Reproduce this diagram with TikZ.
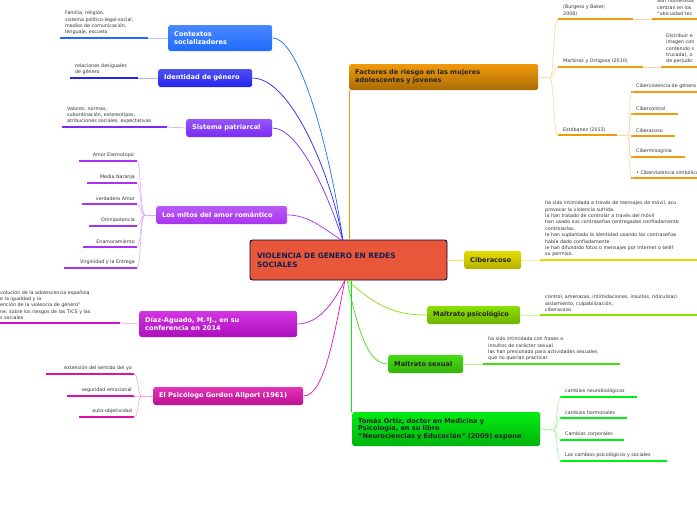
\documentclass[tikz,border=0pt]{standalone}
\usepackage{fontspec}
\setmainfont{DejaVu Sans}
\begin{document}
\begin{tikzpicture}[x=1pt,y=-1pt,
 box/.style={rounded corners=2.5pt,font=\fontsize{6.6}{7.6}\selectfont\bfseries,align=left,inner xsep=6pt,inner ysep=3pt,text=white,anchor=west},
 lf/.style={font=\fontsize{4.8}{6.4}\selectfont,text=black!80,align=left,inner sep=0pt},
 br/.style={line width=0.7pt}]
\useasboundingbox (0,0) rectangle (697,520);
\clip (0,0) rectangle (697,520);
\definecolor{cA}{HTML}{1E6BFF}\definecolor{cB}{HTML}{2424EE}\definecolor{cC}{HTML}{7B2BF5}
\definecolor{cD}{HTML}{A833F0}\definecolor{cE}{HTML}{CC11DD}\definecolor{cF}{HTML}{DD11AA}
\definecolor{cG}{HTML}{F29A0A}\definecolor{cH}{HTML}{E4DC00}\definecolor{cI}{HTML}{8BE000}
\definecolor{cJ}{HTML}{44DD11}\definecolor{cK}{HTML}{00EE11}
\newcommand\myleaf[5]{\draw[#1,line width=1.6pt] (#2,#4) -- (#3,#4);
 \node[lf,anchor=south west] at (#2+5,#4-3) {#5};}
\newcommand\myleafr[5]{\draw[#1,line width=1.6pt] (#2,#4) -- (#3,#4);
 \node[lf,anchor=south east] at (#3-2,#4-3) {#5};}
% center
\node[draw=black!80!blue,line width=0.9pt,fill={rgb,255:red,232;green,87;blue,58},rounded corners=2.5pt,minimum width=197pt,minimum height=40pt,align=left,text width=183pt,font=\fontsize{7.4}{9}\selectfont\bfseries,text={rgb,255:red,20;green,30;blue,80}] (c) at (348.5,260) {VIOLENCIA DE GENERO EN REDES\\SOCIALES};
\coordinate (ct) at (343,241);
\coordinate (cb) at (345,280);
% left boxes
\node[box,top color=cA!80!white,bottom color=cA,text width=92pt,minimum height=26pt] (b1) at (168,38) {Contextos\\socializadores};
\node[box,top color=cB!80!white,bottom color=cB,text width=82pt,minimum height=18pt] (b2) at (158,78) {Identidad de género};
\node[box,top color=cC!80!white,bottom color=cC,text width=74pt,minimum height=18pt] (b3) at (186,128) {Sistema patriarcal};
\node[box,top color=cD!80!white,bottom color=cD,text width=119pt,minimum height=18pt] (b4) at (156,215) {Los mitos del amor romántico};
\node[box,top color=cE!85!white,bottom color=cE!85!black,text width=146pt,minimum height=26pt] (b5) at (139,324) {Díaz-Aguado, M.ªJ., en su\\conferencia en 2014};
\node[box,top color=cF!85!white,bottom color=cF!85!black,text width=138pt,minimum height=18pt] (b6) at (153,396) {El Psicólogo Gordon Allport (1961)};
\draw[cA,br] (b1.east) .. controls (300,38) and (330,150) .. (ct);
\draw[cB,br] (b2.east) .. controls (290,78) and (330,170) .. (ct);
\draw[cC,br] (b3.east) .. controls (300,128) and (330,200) .. (ct);
\draw[cD,br] (b4.east) .. controls (310,215) and (325,230) .. (ct);
\draw[cE,br] (b5.east) .. controls (320,324) and (335,300) .. (cb);
\draw[cF,br] (b6.east) .. controls (325,396) and (335,330) .. (cb);
% left leaves
\draw[cA!35,line width=0.8pt] (148,38) -- (b1.west);
\myleaf{cA}{60}{148}{38}{Familia, religión.\\sistema político-legal-social,\\medios de comunicación,\\lenguaje, escuela}
\draw[cB!35,line width=0.8pt] (138,78) -- (b2.west);
\myleaf{cB}{70}{138}{78}{relaciones desiguales\\de género}
\draw[cC!35,line width=0.8pt] (167,127) -- (b3.west);
\myleaf{cC}{62}{167}{127}{Valores, normas,\\subordinación, estereotipos,\\atribuciones sociales, expectativas}
\draw[cE!35,line width=0.8pt] (120,323) -- (b5.west);
\draw[cE,line width=1.6pt] (0,323) -- (120,323);
\node[lf,anchor=south west] at (0,320) {volución de la adolescencia española\\e la igualdad y la\\ención de la violencia de género”\\ne, sobre los riesgos de las TICS y las\\s sociales};
\coordinate (f4) at (145,215);
\draw[cD!40,line width=0.8pt] (b4.west) -- (f4);
\foreach \y/\x/\t in {161/79/Amor Eternotopic,183/87/Media Naranja,204/82/verdadero Amor,226/89/Omnipotencia,247/83/Enamoramiento,268/64/Virginidad y la Entrega}{
 \myleafr{cD}{\x}{137}{\y}{\t}
 \draw[cD!40,line width=0.6pt] (f4) .. controls (140,215) and (141,\y) .. (137,\y);}
\coordinate (f6) at (142,396);
\draw[cF!40,line width=0.8pt] (b6.west) -- (f6);
\foreach \y/\x/\t in {374/46/extensión del sentido del yo,396/67/seguridad emocional,417/79/auto-objetividad}{
 \myleafr{cF}{\x}{134}{\y}{\t}
 \draw[cF!40,line width=0.6pt] (f6) .. controls (137,396) and (139,\y) .. (134,\y);}
% right boxes
\node[box,top color=cG,bottom color=cG!70!black,text=black!85,text width=177pt,minimum height=26pt] (r1) at (349,77) {Factores de riesgo en las mujeres\\adolescentes y jovenes};
\node[box,top color=cH,bottom color=cH!80!black,text=black!85,text width=45pt,minimum height=18pt] (r2) at (464,260) {Ciberacoso};
\node[box,top color=cI,bottom color=cI!80!black,text=black!85,text width=81pt,minimum height=18pt] (r3) at (427,315) {Maltrato psicológico};
\node[box,top color=cJ,bottom color=cJ!80!black,text=black!85,text width=63pt,minimum height=18pt] (r4) at (388,364) {Maltrato sexual};
\node[box,top color=cK,bottom color=cK!75!black,text=black!85,text width=176pt,minimum height=34pt] (r5) at (352,429) {Tomás Ortiz, doctor en Medicina y\\Psicología, en su libro\\“Neurociencias y Educación” (2009) expone};
\draw[cG,br] (349,240) -- (349,90);
\draw[cH!60,br] (c.east) -- (r2.west);
\draw[cI,br] (347,280) .. controls (380,310) and (400,315) .. (r3.west);
\draw[cJ,br] (347,280) .. controls (360,340) and (370,364) .. (r4.west);
\draw[cK,br] (351,280) -- (351,412);
% Ciberacoso etc leaves
\draw[cH!40,line width=0.8pt] (r2.east) -- (540,260);
\myleaf{cH}{540}{697}{260}{ha sido intimidada a través de mensajes de móvil, acu\\provocar la violencia sufrida.\\la han tratado de controlar a través del móvil\\han usado sus contraseñas (entregadas confiadamente\\controlarlas.\\le han suplantado la identidad usando las contraseñas\\había dado confiadamente.\\ le han difundido fotos o mensajes por Internet o teléf\\su permiso.}
\draw[cI!40,line width=0.8pt] (r3.east) -- (540,315);
\myleaf{cI}{540}{697}{315}{control, amenazas, intimidaciones, insultos, ridiculizaci\\aislamiento, culpabilización,\\ciberacoso}
\draw[cJ!40,line width=0.8pt] (r4.east) -- (483,364);
\myleaf{cJ}{483}{620}{364}{ha sido intimidada con frases o\\insultos de carácter sexual.\\ las han presionado para actividades sexuales\\que no querían practicar.}
% factores children
\coordinate (fg) at (550,78);
\draw[cG!40,line width=0.8pt] (r1.east) -- (fg);
\foreach \y/\x in {19/633,67/643,135/617}{\draw[cG!40,line width=0.6pt] (fg) .. controls (554,78) and (553,\y) .. (558,\y);}
\myleaf{cG}{558}{633}{19}{(Burgess y Baker;\\2008)}
\myleaf{cG}{558}{643}{67}{Martínez y Ortigosa (2010)}
\myleaf{cG}{558}{617}{135}{Estébanez (2013)}
\draw[cG!40,line width=0.8pt] (633,19) -- (652,19);
\myleaf{cG}{652}{697}{19}{Son numerosos\\centran en los\\“ubicuidad tec}
\draw[cG!40,line width=0.8pt] (643,67) -- (661,67);
\myleaf{cG}{661}{697}{67}{Distribuir e\\imagen con\\contenido s\\trucada), o\\de perjudic}
\coordinate (fe) at (627,135);
\draw[cG!40,line width=0.8pt] (617,135) -- (fe);
\foreach \y/\x/\t in {92/697/Ciberviolencia de género,114/678/Cibercontrol,136/675/Ciberacoso,157/685/Cibermisoginia,178/697/• Ciberviolencia simbólica}{
 \myleaf{cG}{631}{\x}{\y}{\t}
 \draw[cG!40,line width=0.6pt] (fe) .. controls (632,135) and (627,\y) .. (633,\y);}
% Tomas children
\coordinate (ft) at (553,430);
\draw[cK!40,line width=0.8pt] (r5.east) -- (ft);
\foreach \y/\x/\t in {397/637/cambios neurobiológicos,418/627/cambios hormonales,440/624/Cambios corporales,461/667/Los cambios psicológicos y sociales}{
 \myleaf{cK}{560}{\x}{\y}{\t}
 \draw[cK!40,line width=0.6pt] (ft) .. controls (558,430) and (556,\y) .. (561,\y);}
\end{tikzpicture}
\end{document}
